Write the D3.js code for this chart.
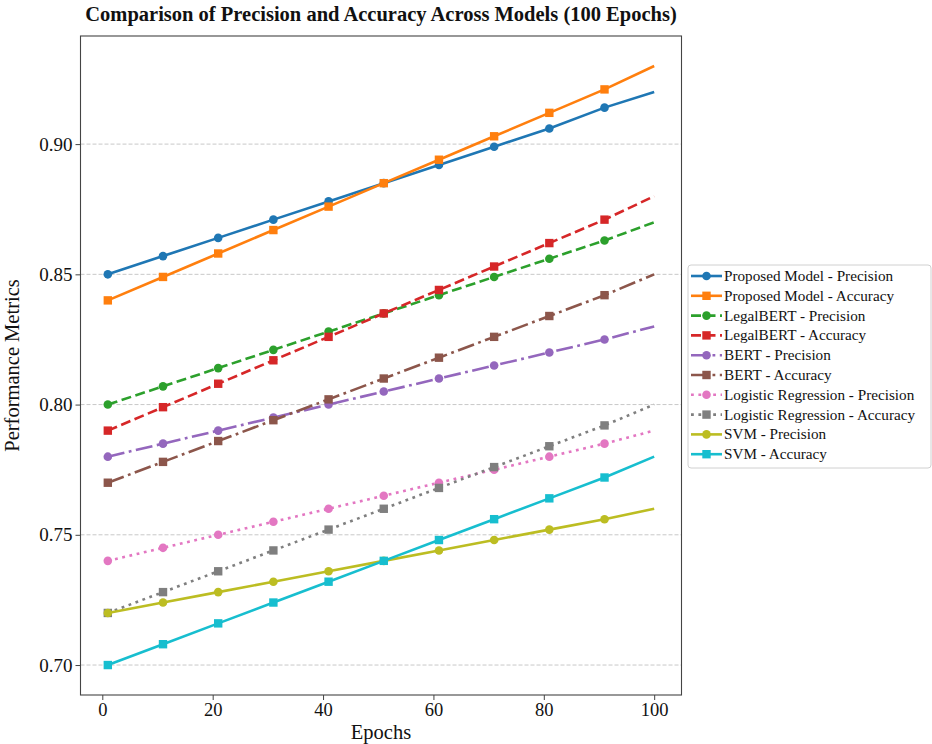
<!DOCTYPE html>
<html>
<head>
<meta charset="utf-8">
<script src="https://cdn.jsdelivr.net/npm/d3@7"></script>
<style>
  body { margin: 0; background: #fff; }
  svg text { font-family: "Liberation Serif", "Times New Roman", serif; fill: #111; }
</style>
</head>
<body>
<main></main>
<script>
// epochs where values were read (markers every 10 epochs, line ends at 100)
const epochs = [1, 11, 21, 31, 41, 51, 61, 71, 81, 91, 100];

const proposedPrecision = [0.850, 0.857, 0.864, 0.871, 0.878, 0.885, 0.892, 0.899, 0.906, 0.914, 0.920];
const proposedAccuracy  = [0.840, 0.849, 0.858, 0.867, 0.876, 0.885, 0.894, 0.903, 0.912, 0.921, 0.930];
const legalPrecision    = [0.800, 0.807, 0.814, 0.821, 0.828, 0.835, 0.842, 0.849, 0.856, 0.863, 0.870];
const legalAccuracy     = [0.790, 0.799, 0.808, 0.817, 0.826, 0.835, 0.844, 0.853, 0.862, 0.871, 0.880];
const bertPrecision     = [0.780, 0.785, 0.790, 0.795, 0.800, 0.805, 0.810, 0.815, 0.820, 0.825, 0.830];
const bertAccuracy      = [0.770, 0.778, 0.786, 0.794, 0.802, 0.810, 0.818, 0.826, 0.834, 0.842, 0.850];
const lrPrecision       = [0.740, 0.745, 0.750, 0.755, 0.760, 0.765, 0.770, 0.775, 0.780, 0.785, 0.790];
const lrAccuracy        = [0.720, 0.728, 0.736, 0.744, 0.752, 0.760, 0.768, 0.776, 0.784, 0.792, 0.800];
const svmPrecision      = [0.720, 0.724, 0.728, 0.732, 0.736, 0.740, 0.744, 0.748, 0.752, 0.756, 0.760];
const svmAccuracy       = [0.700, 0.708, 0.716, 0.724, 0.732, 0.740, 0.748, 0.756, 0.764, 0.772, 0.780];

const xTicks = [0, 20, 40, 60, 80, 100];
const yTicks = [0.70, 0.75, 0.80, 0.85, 0.90];

const series = [
  {name: "Proposed Model - Precision", values: proposedPrecision, color: "#1f77b4", dash: null, marker: "circle"},
  {name: "Proposed Model - Accuracy", values: proposedAccuracy, color: "#ff7f0e", dash: null, marker: "square"},
  {name: "LegalBERT - Precision", values: legalPrecision, color: "#2ca02c", dash: "10,4.5", marker: "circle"},
  {name: "LegalBERT - Accuracy", values: legalAccuracy, color: "#d62728", dash: "10,4.5", marker: "square"},
  {name: "BERT - Precision", values: bertPrecision, color: "#9467bd", dash: "17,4.5,2.8,4.5", marker: "circle"},
  {name: "BERT - Accuracy", values: bertAccuracy, color: "#8c564b", dash: "17,4.5,2.8,4.5", marker: "square"},
  {name: "Logistic Regression - Precision", values: lrPrecision, color: "#e377c2", dash: "2.8,4.6", marker: "circle"},
  {name: "Logistic Regression - Accuracy", values: lrAccuracy, color: "#7f7f7f", dash: "2.8,4.6", marker: "square"},
  {name: "SVM - Precision", values: svmPrecision, color: "#bcbd22", dash: null, marker: "circle"},
  {name: "SVM - Accuracy", values: svmAccuracy, color: "#17becf", dash: null, marker: "square"}
];

const w = 932, h = 744;
const padL = 80.5, padR = 681.5, padT = 36, padB = 695;

const svg = d3.select("main").append("svg")
  .attr("width", w)
  .attr("height", h);

const xScale = d3.scaleLinear().domain([-3.95, 104.95]).range([padL, padR]);
const yScale = d3.scaleLinear().domain([0.6885, 0.9415]).range([padB, padT]);

// grid
svg.append("g")
  .selectAll("line")
  .data(yTicks)
  .enter()
  .append("line")
  .attr("x1", padL).attr("x2", padR)
  .attr("y1", d => yScale(d)).attr("y2", d => yScale(d))
  .attr("stroke", "#c8c8c8")
  .attr("stroke-width", 1)
  .attr("stroke-dasharray", "4,2");

const line = d3.line()
  .x(d => xScale(d[0]))
  .y(d => yScale(d[1]));

const plot = svg.append("g");

series.forEach(s => {
  const pts = epochs.map((e, i) => [e, s.values[i]]);
  plot.append("path")
    .attr("d", line(pts))
    .attr("fill", "none")
    .attr("stroke", s.color)
    .attr("stroke-width", 2.6)
    .attr("stroke-dasharray", s.dash);
  const marks = pts.slice(0, 10);
  if (s.marker === "circle") {
    plot.selectAll(null).data(marks).enter().append("circle")
      .attr("cx", d => xScale(d[0]))
      .attr("cy", d => yScale(d[1]))
      .attr("r", 4.3)
      .attr("fill", s.color);
  } else {
    plot.selectAll(null).data(marks).enter().append("rect")
      .attr("x", d => xScale(d[0]) - 4.2)
      .attr("y", d => yScale(d[1]) - 4.2)
      .attr("width", 8.4).attr("height", 8.4)
      .attr("fill", s.color);
  }
});

// frame
svg.append("rect")
  .attr("x", padL).attr("y", padT)
  .attr("width", padR - padL).attr("height", padB - padT)
  .attr("fill", "none")
  .attr("stroke", "#444")
  .attr("stroke-width", 1.1);

const xAxis = d3.axisBottom(xScale).tickValues(xTicks).tickFormat(d3.format("d")).tickSize(5).tickPadding(3);
const gx = svg.append("g")
  .attr("transform", "translate(0," + padB + ")")
  .call(xAxis);
gx.select(".domain").remove();
gx.selectAll("text").style("font-size", "18.5px").attr("fill", "#111");
gx.selectAll("line").attr("stroke", "#444");

const yAxis = d3.axisLeft(yScale).tickValues(yTicks).tickFormat(d3.format(".2f")).tickSize(5).tickPadding(3);
const gy = svg.append("g")
  .attr("transform", "translate(" + padL + ",0)")
  .call(yAxis);
gy.select(".domain").remove();
gy.selectAll("text").style("font-size", "19px").attr("fill", "#111");
gy.selectAll("line").attr("stroke", "#444");

svg.append("text")
  .attr("x", (padL + padR) / 2)
  .attr("y", 739)
  .attr("text-anchor", "middle")
  .style("font-size", "20.5px")
  .text("Epochs");

svg.append("text")
  .attr("transform", "rotate(-90)")
  .attr("x", -(padT + padB) / 2)
  .attr("y", 19)
  .attr("text-anchor", "middle")
  .style("font-size", "20.5px")
  .text("Performance Metrics");

svg.append("text")
  .attr("x", (padL + padR) / 2)
  .attr("y", 21)
  .attr("text-anchor", "middle")
  .style("font-size", "20.5px")
  .style("font-weight", "bold")
  .text("Comparison of Precision and Accuracy Across Models (100 Epochs)");

// legend
const lg = svg.append("g").attr("transform", "translate(688,265)");
lg.append("rect")
  .attr("width", 243).attr("height", 203)
  .attr("rx", 3)
  .attr("fill", "#fff")
  .attr("stroke", "#d0d0d0");

series.forEach((s, i) => {
  const y = 11 + i * 19.8;
  lg.append("line")
    .attr("x1", 3).attr("x2", 34)
    .attr("y1", y).attr("y2", y)
    .attr("stroke", s.color)
    .attr("stroke-width", 2.6)
    .attr("stroke-dasharray", s.dash);
  if (s.marker === "circle") {
    lg.append("circle").attr("cx", 18.5).attr("cy", y).attr("r", 4.3).attr("fill", s.color);
  } else {
    lg.append("rect").attr("x", 14.3).attr("y", y - 4.2).attr("width", 8.4).attr("height", 8.4).attr("fill", s.color);
  }
  lg.append("text")
    .attr("x", 36)
    .attr("y", y + 5)
    .style("font-size", "15.2px")
    .text(s.name);
});
</script>
</body>
</html>
